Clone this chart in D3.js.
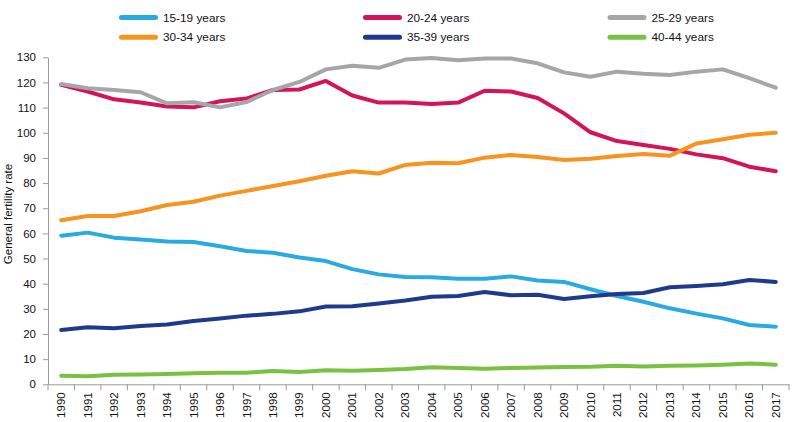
<!DOCTYPE html>
<html>
<head>
<meta charset="utf-8">
<script src="https://cdn.jsdelivr.net/npm/d3@7"></script>
<style>
  html, body { margin: 0; padding: 0; background: #fff; }
  svg { display: block; font-family: "Liberation Sans", Arial, Helvetica, sans-serif; }
</style>
</head>
<body>
<svg id="chart" width="794" height="422"></svg>
<script>
const years = [1990,1991,1992,1993,1994,1995,1996,1997,1998,1999,2000,2001,2002,2003,2004,2005,2006,2007,2008,2009,2010,2011,2012,2013,2014,2015,2016,2017];

const age15_19 = [59.1,60.3,58.3,57.6,56.8,56.6,54.9,53.0,52.3,50.4,49.0,45.8,43.7,42.7,42.6,42.0,42.0,42.9,41.3,40.7,37.8,35.1,32.8,30.2,28.1,26.2,23.6,22.9];
const age20_24 = [119.1,116.4,113.3,112.0,110.4,110.1,112.5,113.6,117.0,117.2,120.6,114.8,112.0,112.0,111.4,112.0,116.7,116.4,113.8,107.7,100.2,96.7,95.1,93.6,91.4,89.9,86.5,84.7];
const age25_29 = [119.4,117.7,117.0,116.1,111.7,112.1,110.1,112.2,117.0,120.2,125.2,126.6,125.8,129.1,129.7,128.8,129.5,129.5,127.6,124.0,122.3,124.3,123.5,123.0,124.3,125.2,121.7,117.9];
const age30_34 = [65.2,66.9,66.9,68.8,71.3,72.6,75.0,76.9,78.8,80.7,82.9,84.7,83.8,87.2,88.1,87.9,90.1,91.2,90.4,89.2,89.7,90.8,91.6,90.9,95.7,97.4,99.2,100.0];
const age35_39 = [21.6,22.7,22.3,23.2,23.8,25.2,26.2,27.3,28.0,29.0,30.9,31.0,32.1,33.3,34.8,35.1,36.7,35.4,35.6,33.9,35.0,35.9,36.3,38.6,39.1,39.8,41.5,40.7];
const age40_44 = [3.4,3.2,3.8,3.9,4.1,4.4,4.6,4.6,5.3,4.9,5.6,5.4,5.7,6.1,6.8,6.5,6.2,6.5,6.7,6.9,7.0,7.4,7.1,7.4,7.5,7.8,8.3,7.8];

const seriesNames = ["15-19 years","20-24 years","25-29 years","30-34 years","35-39 years","40-44 years"];
const seriesValues = [age15_19, age20_24, age25_29, age30_34, age35_39, age40_44];
const seriesColors = ["#29abe2","#d4145a","#a6a6a6","#f7931e","#1f3a8a","#7ac143"];
const yTicks = [0,10,20,30,40,50,60,70,80,90,100,110,120,130];
const yTitle = "General fertility rate";

const svg = d3.select("#chart");
const mLeft = 48, mRight = 789, mTop = 57.3, mBottom = 384.3;

const x = d3.scaleBand().domain(years).range([mLeft, mRight]).padding(0);
const y = d3.scaleLinear().domain([0, 130]).range([mBottom, mTop]);
const cx = d => x(d) + x.bandwidth() / 2;

// Y axis
const yAxis = svg.append("g")
  .attr("transform", `translate(${mLeft},0)`)
  .call(d3.axisLeft(y).tickValues(yTicks).tickSize(5).tickSizeOuter(0).tickPadding(7));
yAxis.select(".domain").attr("stroke", "#9a9a9a");
yAxis.selectAll(".tick line").attr("stroke", "#9a9a9a");
yAxis.selectAll(".tick text").attr("font-size", 11.5).attr("fill", "#111")
  .attr("font-family", '"Liberation Sans", Arial, sans-serif');

// X axis (labels) + boundary ticks
const xAxis = svg.append("g")
  .attr("transform", `translate(0,${mBottom})`)
  .call(d3.axisBottom(x).tickSize(0).tickSizeOuter(0).tickPadding(0));
xAxis.select(".domain").attr("stroke", "#9a9a9a");
xAxis.selectAll(".tick text")
  .attr("font-size", 11.5).attr("fill", "#111")
  .attr("font-family", '"Liberation Sans", Arial, sans-serif')
  .attr("transform", "rotate(-90)")
  .attr("text-anchor", "end")
  .attr("x", -8)
  .attr("y", 0)
  .attr("dy", "0.35em");
const bounds = years.map(d => x(d)).concat([x.range()[1]]);
xAxis.selectAll("line.bound").data(bounds).join("line")
  .attr("class", "bound")
  .attr("x1", d => d).attr("x2", d => d)
  .attr("y1", 0).attr("y2", 6)
  .attr("stroke", "#9a9a9a");

// Y title
svg.append("text")
  .attr("transform", `translate(12,214) rotate(-90)`)
  .attr("text-anchor", "middle")
  .attr("font-size", 11.5)
  .attr("fill", "#111")
  .text(yTitle);

// Lines
const line = d3.line().x((d, i) => cx(years[i])).y(d => y(d));
seriesValues.forEach((vals, k) => {
  svg.append("path")
    .datum(vals)
    .attr("fill", "none")
    .attr("stroke", seriesColors[k])
    .attr("stroke-width", 4)
    .attr("stroke-linejoin", "round")
    .attr("stroke-linecap", "round")
    .attr("d", line);
});

// Legend
const legX = [119, 363, 607.5];
const legY = [17.6, 37.2];
seriesNames.forEach((name, k) => {
  const gx = legX[k % 3], gy = legY[Math.floor(k / 3)];
  const g = svg.append("g").attr("transform", `translate(${gx},${gy})`);
  g.append("line").attr("x1", 2.5).attr("x2", 36.5).attr("y1", 0).attr("y2", 0)
    .attr("stroke", seriesColors[k]).attr("stroke-width", 5).attr("stroke-linecap", "round");
  g.append("text").attr("x", 44).attr("y", 0).attr("dy", "0.36em")
    .attr("font-size", 11.8).attr("fill", "#111")
    .text(name);
});
</script>
</body>
</html>
